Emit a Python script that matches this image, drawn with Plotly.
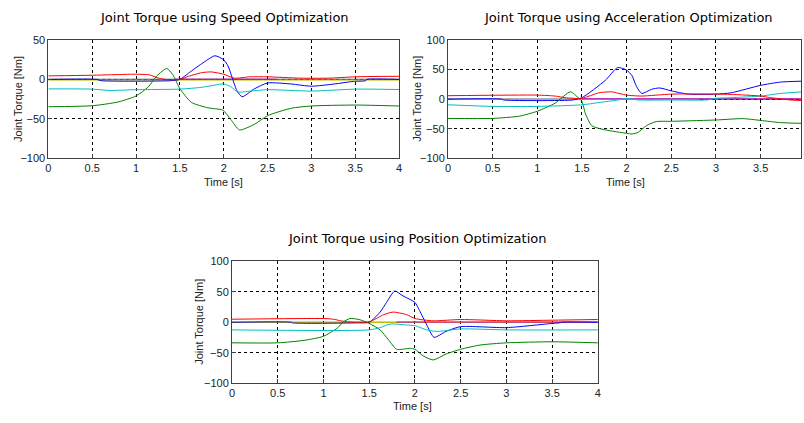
import plotly.graph_objects as go

W, H = 804, 423

# ---------------- DATA ----------------
# Speed optimization
speed_blue_t = [0, 0.55, 0.6, 1.4, 1.5, 1.6, 1.75, 1.9, 2.0, 2.05, 2.09, 2.15, 2.21, 2.35, 2.5, 2.77, 3.0, 3.26, 3.48, 3.62, 3.63, 4.0]
speed_blue_v = [0, 0, -1.6, -1.6, 0, 8, 20, 30, 25, 17, 4.5, -14, -22, -12, -4.5, -5.8, -8.6, -5.8, -2.5, -1.6, 0, 0]
speed_green_t = [0, 0.5, 0.8, 1.0, 1.14, 1.24, 1.35, 1.42, 1.5, 1.63, 1.82, 1.99, 2.08, 2.18, 2.35, 2.5, 2.77, 3.0, 3.5, 4.0]
speed_green_v = [-34.6, -33.4, -28.5, -21, -9.5, 4.8, 13.9, 6, -11.6, -29, -36, -39, -50.6, -64, -57, -46, -36.6, -33.7, -32.5, -33.7]
speed_red_t = [0, 0.5, 1.0, 1.15, 1.26, 1.33, 1.5, 1.6, 1.75, 1.86, 2.0, 2.12, 2.3, 2.5, 2.88, 3.2, 3.5, 4.0]
speed_red_v = [4.5, 5.3, 6.6, 5.8, 1.6, 0, 0, 4, 8.6, 9.5, 6.6, 1.6, 3.3, 3.3, 1.6, 1.6, 3.3, 4]
speed_cyan_t = [0, 0.5, 0.7, 1.0, 1.5, 1.75, 2.0, 2.08, 2.16, 2.3, 2.5, 3.0, 3.5, 4.0]
speed_cyan_v = [-12, -12.3, -14, -13, -12.3, -10, -5.8, -9, -16, -14.8, -13, -14.8, -12.3, -12.8]
speed_magenta_t = [1.45, 2.6]
speed_magenta_v = [0.3, 0.3]
speed_yellow_t = [0, 4.0]
speed_yellow_v = [-0.8, -0.8]
speed_black_t = [0, 4.0]
speed_black_v = [0.2, 0.2]

# Acceleration optimization
acc_blue_t = [0, 0.6, 0.62, 1.4, 1.5, 1.76, 1.9, 2.0, 2.06, 2.11, 2.17, 2.28, 2.37, 2.5, 2.69, 3.0, 3.17, 3.5, 3.72, 3.96]
acc_blue_v = [0, 0, -1.4, -1.4, 2.5, 31.5, 53.4, 49, 39.7, 21.6, 9.6, 16.7, 18.9, 14, 8.5, 8.5, 10.7, 23.3, 28.8, 30.4]
acc_green_t = [0, 0.5, 0.8, 1.0, 1.2, 1.37, 1.46, 1.5, 1.54, 1.61, 1.76, 2.0, 2.06, 2.13, 2.22, 2.33, 2.5, 3.0, 3.3, 3.5, 3.72, 3.96]
acc_green_v = [-32.6, -32.6, -28.8, -20.5, -6.8, 12.5, 2, -4, -25, -45, -52, -57.8, -59, -56, -45, -38, -37.5, -35.3, -33, -36, -39.7, -41]
acc_red_t = [0, 1.0, 1.2, 1.31, 1.5, 1.69, 1.83, 2.0, 2.17, 2.5, 3.0, 3.17, 3.5, 3.61, 3.83, 3.96]
acc_red_v = [5.8, 6.8, 5.2, 2.5, 1.4, 10.7, 12.3, 6.8, 5.2, 8.5, 8.5, 8, 5.2, 2.5, -1.4, -2.5]
acc_cyan_t = [0, 0.5, 1.0, 1.5, 1.69, 1.9, 2.0, 2.13, 2.5, 2.9, 3.0, 3.17, 3.5, 3.72, 3.96]
acc_cyan_v = [-9.6, -12.3, -12.3, -9.6, -5.8, -1.4, 1.4, -1.4, -1.4, -1.4, 1.4, 2.5, 5.2, 9.6, 12.3]
acc_magenta_t = [1.5, 3.96]
acc_magenta_v = [0.5, 0.5]
acc_yellow_t = [0, 2.8]
acc_yellow_v = [-0.6, -0.6]
acc_black_t = [0, 3.96]
acc_black_v = [0, 0]

# Position optimization
pos_blue_t = [0, 0.65, 0.66, 1.36, 1.5, 1.62, 1.69, 1.78, 1.87, 2.0, 2.05, 2.13, 2.21, 2.34, 2.5, 3.0, 3.5, 3.59, 3.6, 4.0]
pos_blue_v = [0, 0, -1, -1, 0, 16.7, 32.6, 51.2, 43.2, 32.6, 19.4, -4.5, -24.7, -15, -7.2, -8.8, -1.9, -0.8, 0, 0]
pos_green_t = [0, 0.5, 0.8, 1.0, 1.15, 1.22, 1.29, 1.39, 1.5, 1.62, 1.71, 1.8, 1.95, 2.0, 2.09, 2.2, 2.34, 2.5, 2.71, 3.0, 3.5, 4.0]
pos_green_v = [-33.7, -33.7, -29.4, -23, -9.8, 0.8, 6.1, 4.5, -1.9, -12.5, -28.4, -44.3, -42.7, -44.3, -55, -61.8, -52, -44.3, -37.4, -33.7, -32, -33.7]
pos_red_t = [0, 1.0, 1.11, 1.19, 1.26, 1.5, 1.66, 1.76, 1.91, 2.0, 2.2, 2.5, 3.0, 3.5, 4.0]
pos_red_v = [5, 6.1, 5, 2.4, 0.8, 0.8, 12.5, 16.7, 12.5, 6.1, 2.4, 4.5, 2.4, 3.4, 4.5]
pos_cyan_t = [0, 1.5, 1.62, 1.73, 1.91, 2.0, 2.13, 2.24, 2.5, 3.0, 4.0]
pos_cyan_v = [-12.5, -12.5, -8.8, -2.9, -4.5, -5.6, -12.5, -15, -10.9, -12.5, -12.5]
pos_magenta_t = [1.8, 4.0]
pos_magenta_v = [0.3, 0.3]
pos_yellow_t = [0, 4.0]
pos_yellow_v = [-0.4, -0.4]
pos_black_t = [0, 4.0]
pos_black_v = [0, 0]

titles = ["Joint Torque using Speed Optimization",
          "Joint Torque using Acceleration Optimization",
          "Joint Torque using Position Optimization"]
x_tick_vals = [0, 0.5, 1, 1.5, 2, 2.5, 3, 3.5, 4]
x_tick_text = ["0", "0.5", "1", "1.5", "2", "2.5", "3", "3.5", "4"]
y_ticks_speed = [-100, -50, 0, 50]
y_ticks_other = [-100, -50, 0, 50, 100]
y_label = "Joint Torque [Nm]"
x_label = "Time [s]"

# ---------------- FIGURE ----------------
colors = {
    "blue": "#0000ff", "green": "#008000", "red": "#ff0000", "cyan": "#00bfbf",
    "magenta": "#bf00bf", "yellow": "#bfbf00", "black": "#303030",
}

panels = [
    ("x", "y", [
        ("blue", speed_blue_t, speed_blue_v), ("green", speed_green_t, speed_green_v),
        ("red", speed_red_t, speed_red_v), ("cyan", speed_cyan_t, speed_cyan_v),
        ("magenta", speed_magenta_t, speed_magenta_v), ("yellow", speed_yellow_t, speed_yellow_v),
        ("black", speed_black_t, speed_black_v)]),
    ("x2", "y2", [
        ("blue", acc_blue_t, acc_blue_v), ("green", acc_green_t, acc_green_v),
        ("red", acc_red_t, acc_red_v), ("cyan", acc_cyan_t, acc_cyan_v),
        ("magenta", acc_magenta_t, acc_magenta_v), ("yellow", acc_yellow_t, acc_yellow_v),
        ("black", acc_black_t, acc_black_v)]),
    ("x3", "y3", [
        ("blue", pos_blue_t, pos_blue_v), ("green", pos_green_t, pos_green_v),
        ("red", pos_red_t, pos_red_v), ("cyan", pos_cyan_t, pos_cyan_v),
        ("magenta", pos_magenta_t, pos_magenta_v), ("yellow", pos_yellow_t, pos_yellow_v),
        ("black", pos_black_t, pos_black_v)]),
]

fig = go.Figure()
for xa, ya, series in panels:
    d = {c: (t, v) for c, t, v in series}
    for c in ["black", "yellow", "magenta", "blue", "green", "cyan", "red"]:
        t, v = d[c]
        fig.add_trace(go.Scatter(x=t, y=v, mode="lines", xaxis=xa, yaxis=ya,
                                 line=dict(color=colors[c], width=1, shape="spline", smoothing=0.6),
                                 showlegend=False, hoverinfo="skip"))

def px_x(p):
    return p / W

def px_y(p):
    return 1 - p / H

FONT = "Liberation Sans, Arial, sans-serif"
TFONT = "DejaVu Sans, Liberation Sans, sans-serif"
axis_common = dict(
    showline=True, mirror=True, linecolor="#404040", linewidth=1,
    showgrid=True, gridcolor="black", griddash="dot", gridwidth=1,
    zeroline=False, ticks="inside", ticklen=4, tickcolor="#404040",
    tickfont=dict(family=FONT, size=11, color="#222222"),
)

fig.update_layout(
    width=W, height=H, margin=dict(l=0, r=0, t=0, b=0),
    paper_bgcolor="white", plot_bgcolor="white", showlegend=False,
    xaxis=dict(axis_common, domain=[px_x(45.7), px_x(399)], range=[0, 4],
               tickvals=x_tick_vals, ticktext=x_tick_text, anchor="y"),
    yaxis=dict(axis_common, domain=[px_y(156.7), px_y(35)], range=[-100, 50],
               tickvals=y_ticks_speed, anchor="x"),
    xaxis2=dict(axis_common, domain=[px_x(448.3), 1.0], range=[0, 3.952],
                tickvals=x_tick_vals[:-1], ticktext=x_tick_text[:-1], anchor="y2"),
    yaxis2=dict(axis_common, domain=[px_y(156.7), px_y(35)], range=[-100, 100],
                tickvals=y_ticks_other, anchor="x2"),
    xaxis3=dict(axis_common, domain=[px_x(230.7), px_x(599.3)], range=[0, 4],
                tickvals=x_tick_vals, ticktext=x_tick_text, anchor="y3"),
    yaxis3=dict(axis_common, domain=[px_y(388.3), px_y(262.7)], range=[-100, 100],
                tickvals=y_ticks_other, anchor="x3"),
)

title_pos = [(223, 12), (629.7, 12), (416.7, 239)]
ylabel_pos = [(15, 95.8), (416.7, 95.8), (198, 325.5)]
xlabel_pos = [(221.7, 181.5), (626.7, 181.5), (413, 412)]

for (tx, ty), text in zip(title_pos, titles):
    fig.add_annotation(x=px_x(tx), y=px_y(ty), xref="paper", yref="paper", text=text,
                       showarrow=False, xanchor="center", yanchor="middle",
                       font=dict(family=TFONT, size=13, color="black"))
for (lx, ly) in ylabel_pos:
    fig.add_annotation(x=px_x(lx), y=px_y(ly), xref="paper", yref="paper", text=y_label,
                       showarrow=False, textangle=-90, xanchor="center", yanchor="middle",
                       font=dict(family=FONT, size=11, color="#222222"))
for (lx, ly) in xlabel_pos:
    fig.add_annotation(x=px_x(lx), y=px_y(ly), xref="paper", yref="paper", text=x_label,
                       showarrow=False, xanchor="center", yanchor="middle",
                       font=dict(family=FONT, size=11, color="#222222"))

fig.write_html("out.html", config={"displayModeBar": False},
               post_script="document.body.style.margin='0';document.body.style.overflow='hidden';")
